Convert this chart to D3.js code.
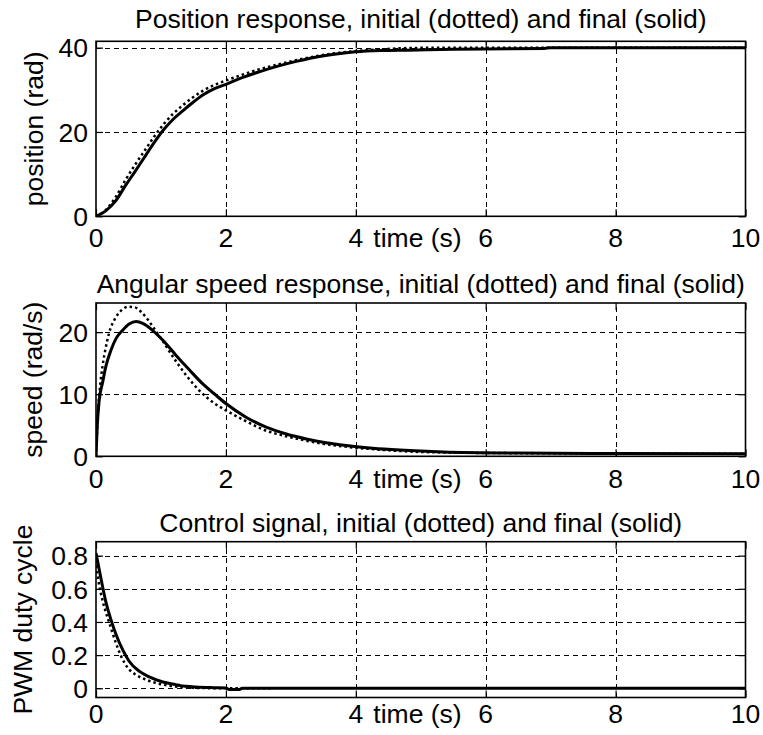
<!DOCTYPE html>
<html>
<head>
<meta charset="utf-8">
<script src="https://cdn.jsdelivr.net/npm/d3@7"></script>
<style>
  html, body { margin: 0; padding: 0; background: #fff; }
  svg { display: block; }
  text { font-family: Arial, "Liberation Sans", sans-serif; fill: #000; }
</style>
</head>
<body>
<svg id="chart" width="763" height="735"></svg>
<script>
// ---------- data ----------
const xTicks = [0, 2, 4, 6, 8, 10];
const titles = [
  "Position response, initial (dotted) and final (solid)",
  "Angular speed response, initial (dotted) and final (solid)",
  "Control signal, initial (dotted) and final (solid)"
];
const yLabels = ["position (rad)", "speed (rad/s)", "PWM duty cycle"];
const xLabel = "time (s)";
const posTicks = [0, 20, 40];
const speedTicks = [0, 10, 20];
const ctrlTicks = [0, 0.2, 0.4, 0.6, 0.8];

// position (rad)
const tPos = [0, 0.15, 0.3, 0.45, 0.6, 0.75, 0.9, 1.05, 1.2, 1.35, 1.5, 1.65, 1.8, 2.0, 2.2, 2.5, 2.8, 3.1, 3.4, 3.7, 4.0, 4.4, 4.8, 5.5, 6.0, 6.9, 7.0, 10];
const posFinal = [0, 1.3, 3.6, 7.2, 10.6, 14.1, 17.6, 20.7, 23.2, 25.2, 27.1, 28.8, 30.1, 31.3, 32.6, 34.2, 35.6, 36.8, 37.8, 38.5, 39.0, 39.3, 39.4, 39.6, 39.7, 39.8, 40.0, 40.0];
const posInitial = [0, 1.5, 4.5, 8.5, 12.2, 15.6, 19.0, 22.0, 24.5, 26.5, 28.3, 29.8, 31.0, 32.2, 33.3, 34.8, 36.0, 37.1, 38.0, 38.7, 39.2, 39.6, 39.9, 40.0, 40.0, 40.0, 40.0, 40.0];

// angular speed (rad/s)
const tSpeedFinal = [0, 0.02, 0.05, 0.1, 0.15, 0.23, 0.31, 0.41, 0.51, 0.62, 0.72, 0.87, 1.03, 1.23, 1.44, 1.64, 1.85, 2.0, 2.31, 2.62, 2.93, 3.24, 3.54, 3.85, 4.26, 4.68, 5.35, 6.5, 8, 10];
const speedFinal = [0, 5, 9.1, 11.8, 14.4, 17.1, 19.0, 20.3, 21.3, 21.7, 21.4, 20.3, 18.7, 16.3, 13.9, 11.7, 9.8, 8.5, 6.3, 4.7, 3.6, 2.8, 2.2, 1.75, 1.3, 1.0, 0.7, 0.52, 0.45, 0.4];
const tSpeedInitial = [0, 0.03, 0.06, 0.1, 0.15, 0.2, 0.3, 0.4, 0.5, 0.6, 0.7, 0.8, 0.9, 1.0, 1.2, 1.4, 1.6, 1.8, 2.0, 2.3, 2.6, 2.9, 3.2, 3.5, 3.8, 4.2, 4.6, 5.0, 6.5, 8, 10];
const speedInitial = [0, 7, 11, 14.5, 17.5, 19.8, 22.3, 23.6, 24.1, 24.0, 23.2, 22.0, 20.5, 19.0, 15.8, 12.9, 10.5, 8.7, 7.4, 5.7, 4.2, 3.3, 2.6, 2.0, 1.6, 1.2, 0.9, 0.7, 0.5, 0.45, 0.4];

// control signal (PWM duty cycle)
const tCtrlFinal = [0, 0.05, 0.1, 0.15, 0.23, 0.31, 0.41, 0.51, 0.67, 0.82, 1.03, 1.23, 1.3, 1.39, 1.54, 1.8, 2.0, 2.05, 2.2, 2.25, 3, 10];
const ctrlFinal = [0.815, 0.715, 0.615, 0.524, 0.414, 0.323, 0.233, 0.163, 0.102, 0.069, 0.038, 0.022, 0.016, 0.012, 0.008, 0.004, 0.002, -0.008, -0.008, 0.0, 0.0, 0.0];
const tCtrlInitial = [0, 0.05, 0.1, 0.15, 0.2, 0.3, 0.385, 0.5, 0.6, 0.77, 1.03, 1.3, 1.6, 2.0, 2.7];
const ctrlInitial = [0.74, 0.62, 0.53, 0.46, 0.40, 0.28, 0.195, 0.118, 0.085, 0.052, 0.022, 0.008, 0.002, 0.0, 0.0];

// ---------- layout ----------
const svg = d3.select("#chart");
const X0 = 96, X1 = 745.5;
const FS = 26.5;
const px = v => Math.round(v) + 0.5;
const panels = [
  { top: 41.3, bottom: 216.3, dom: [0, 41.5], ticks: posTicks, fmt: d3.format("d"),
    titleY: 27.5, tickY: 246.7, labelX: 43,
    series: [{ t: tPos, v: posInitial, dotted: true }, { t: tPos, v: posFinal, dotted: false }] },
  { top: 303, bottom: 456.3, dom: [0, 24.7], ticks: speedTicks, fmt: d3.format("d"),
    titleY: 293.3, tickY: 488.3, labelX: 42,
    series: [{ t: tSpeedInitial, v: speedInitial, dotted: true }, { t: tSpeedFinal, v: speedFinal, dotted: false }] },
  { top: 541.7, bottom: 697.5, dom: [-0.0555, 0.884], ticks: ctrlTicks, fmt: d => d === 0 ? "0" : d3.format(".1f")(d),
    titleY: 531.5, tickY: 723.3, labelX: 32,
    series: [{ t: tCtrlInitial, v: ctrlInitial, dotted: true }, { t: tCtrlFinal, v: ctrlFinal, dotted: false }] }
];

const x = d3.scaleLinear().domain([0, 10]).range([X0, X1]);

panels.forEach((p, i) => {
  const y = d3.scaleLinear().domain(p.dom).range([p.bottom, p.top]);
  const g = svg.append("g");
  const clipId = "clip" + i;
  svg.append("clipPath").attr("id", clipId)
    .append("rect").attr("x", X0).attr("y", p.top).attr("width", X1 - X0).attr("height", p.bottom - p.top);

  // grid
  const grid = g.append("g").attr("stroke", "#000").attr("stroke-width", 1)
    .attr("stroke-dasharray", "5,4").attr("fill", "none").attr("shape-rendering", "crispEdges");
  xTicks.filter(d => d > 0 && d < 10).forEach(d => {
    grid.append("line").attr("x1", px(x(d))).attr("x2", px(x(d))).attr("y1", p.bottom).attr("y2", p.top);
  });
  p.ticks.filter(d => y(d) < p.bottom - 1 && y(d) > p.top + 1).forEach(d => {
    grid.append("line").attr("x1", X0).attr("x2", X1).attr("y1", px(y(d))).attr("y2", px(y(d)));
  });

  // axes with inward ticks (all four sides)
  const TL = 7;
  g.append("g").attr("transform", `translate(0,${p.bottom})`)
    .call(d3.axisBottom(x).tickValues(xTicks).tickSize(-TL).tickFormat(""))
    .call(a => a.select(".domain").remove());
  g.append("g").attr("transform", `translate(0,${p.top})`)
    .call(d3.axisTop(x).tickValues(xTicks).tickSize(-TL).tickFormat(""))
    .call(a => a.select(".domain").remove());
  g.append("g").attr("transform", `translate(${X0},0)`)
    .call(d3.axisLeft(y).tickValues(p.ticks).tickSize(-TL).tickFormat(""))
    .call(a => a.select(".domain").remove());
  g.append("g").attr("transform", `translate(${X1},0)`)
    .call(d3.axisRight(y).tickValues(p.ticks).tickSize(-TL).tickFormat(""))
    .call(a => a.select(".domain").remove());
  g.selectAll(".tick line").attr("stroke", "#000").attr("stroke-width", 1.2);

  // curves
  const line = d3.line().x(d => x(d[0])).y(d => y(d[1])).curve(d3.curveMonotoneX);
  p.series.forEach(s => {
    const pts = s.t.map((t, k) => [t, s.v[k]]);
    const path = g.append("path").datum(pts)
      .attr("clip-path", `url(#${clipId})`)
      .attr("fill", "none").attr("stroke", "#000")
      .attr("d", line);
    if (s.dotted) {
      path.attr("stroke-width", 2.5).attr("stroke-dasharray", "2.5,3");
    } else {
      path.attr("stroke-width", 3).attr("stroke-linejoin", "round");
    }
  });

  // box
  g.append("rect").attr("x", X0).attr("y", p.top).attr("width", X1 - X0).attr("height", p.bottom - p.top)
    .attr("fill", "none").attr("stroke", "#000").attr("stroke-width", 1.6);

  // tick labels
  xTicks.forEach(d => {
    g.append("text").attr("x", x(d)).attr("y", p.tickY).attr("text-anchor", "middle")
      .attr("font-size", FS).text(d);
  });
  p.ticks.forEach(d => {
    g.append("text").attr("x", 88).attr("y", y(d) + 9.8).attr("text-anchor", "end")
      .attr("font-size", FS).text(p.fmt(d));
  });

  // x label (sits between the 4 and 6 tick labels)
  g.append("text").attr("x", x(4.95)).attr("y", p.tickY).attr("text-anchor", "middle")
    .attr("font-size", FS).text(xLabel);

  // title
  g.append("text").attr("x", (X0 + X1) / 2).attr("y", p.titleY).attr("text-anchor", "middle")
    .attr("font-size", FS).text(titles[i]);

  // y label
  g.append("text").attr("transform", `translate(${p.labelX},${(p.top + p.bottom) / 2}) rotate(-90)`)
    .attr("text-anchor", "middle").attr("font-size", FS).text(yLabels[i]);
});
</script>
</body>
</html>
